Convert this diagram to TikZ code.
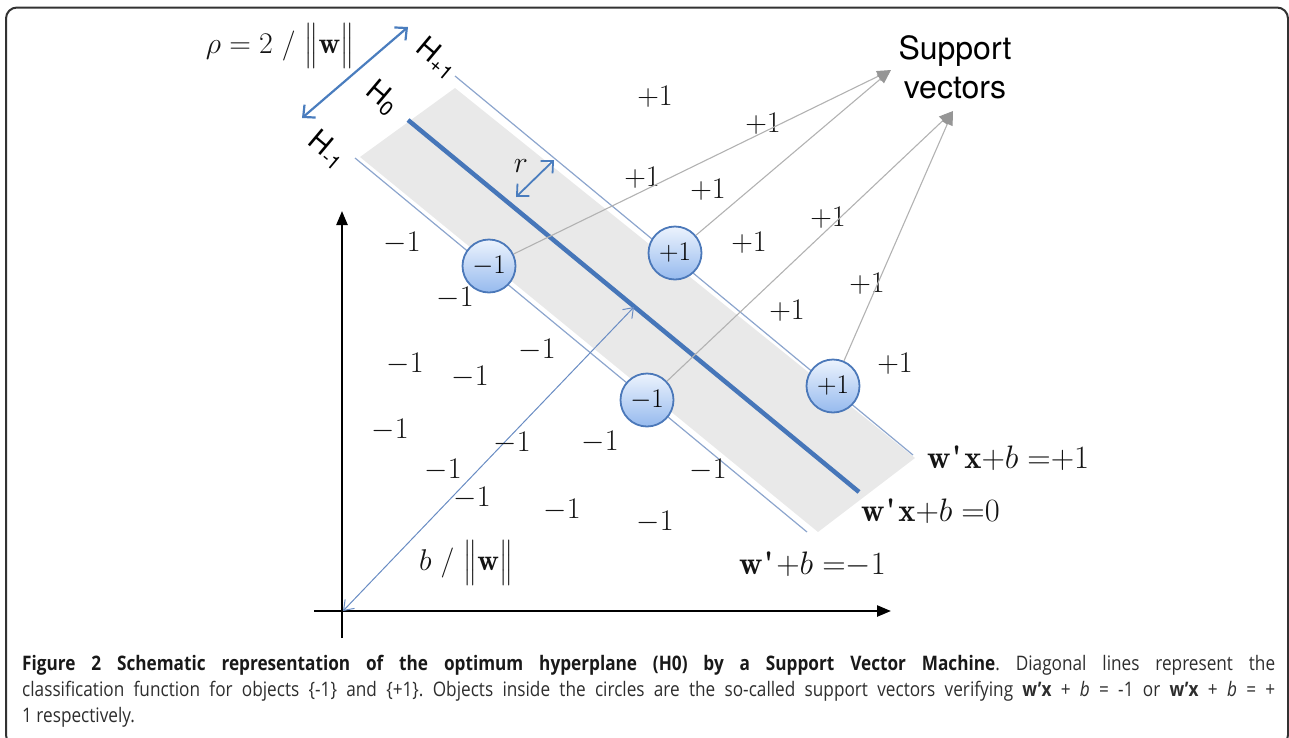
\RequirePackage{fix-cm}
\documentclass[tikz,border=0pt]{standalone}
\usepackage{exscale}
\usepackage{fontspec}
\usetikzlibrary{arrows.meta}
\newfontfamily\helv{TeX Gyre Heros}
\newfontfamily\capfont[FakeStretch=0.86]{Open Sans}
\definecolor{bandgray}{RGB}{233,233,233}
\definecolor{hzero}{RGB}{70,118,185}
\definecolor{hthin}{RGB}{140,165,205}
\definecolor{arrblue}{RGB}{74,125,190}
\definecolor{thinblue}{RGB}{105,140,195}
\definecolor{svline}{RGB}{178,178,178}
\definecolor{svhead}{RGB}{150,150,150}
\definecolor{circtop}{RGB}{236,243,253}
\definecolor{circbot}{RGB}{150,186,238}
\definecolor{circedge}{RGB}{75,120,185}
\definecolor{framecol}{RGB}{50,50,50}
\definecolor{captext}{RGB}{45,45,45}
\newcommand{\wpr}{\mathbf{w}\mbox{\bfseries\kern1pt\textquotesingle\kern2.5pt}}
\begin{document}
\begin{tikzpicture}[x=1pt,y=-1pt,
  lab/.style={font=\fontsize{30}{36}\selectfont, text=black!92, inner sep=0pt},
  eqlab/.style={font=\fontsize{32.5}{38}\selectfont, text=black!92, inner sep=0pt, anchor=west},
  hlab/.style={font=\helv\fontsize{29}{32}\selectfont, text=black, inner sep=0pt, rotate=-40},
  svc/.style={circle, draw=circedge, line width=1.8pt, minimum size=53pt, inner sep=0pt,
    top color=circtop, bottom color=circbot, font=\fontsize{27}{30}\selectfont},
  svarrow/.style={draw=svline, line width=1.1pt, -{Triangle[length=14pt,width=11pt,color=svhead]}},
  thinline/.style={draw=hthin, line width=1.2pt},
  axis/.style={line width=2.4pt, black, -{Triangle[length=14pt,width=11pt]}},
  bigdbl/.style={draw=arrblue, line width=2.2pt, {Straight Barb[length=9pt,width=17pt]}-{Straight Barb[length=9pt,width=17pt]}},
  thindbl/.style={draw=thinblue, line width=1pt, {Straight Barb[length=9pt,width=13pt]}-{Straight Barb[length=9pt,width=13pt]}}
]
\useasboundingbox (0,0) rectangle (1289,737);
\clip (0,0) rectangle (1289,737);
% frame
\draw[line width=2pt, framecol, rounded corners=11pt] (6,7.5) rectangle (1288,746);

% coordinates
\coordinate (O) at (343,611);
\coordinate (ybot) at (342,638);
\coordinate (ytop) at (342,211);
\coordinate (xleft) at (314,611);
\coordinate (xright) at (891,611);
\coordinate (h0a) at (408,120);
\coordinate (h0b) at (859,492);
\coordinate (hpa) at (455,76);
\coordinate (hpb) at (913,455);
\coordinate (hma) at (355,158);
\coordinate (hmb) at (807,532);
\coordinate (ra) at (302,118);
\coordinate (rb) at (408,27);
\coordinate (sa) at (516,197);
\coordinate (sb) at (554,160);
\coordinate (bw) at (634,307);
\coordinate (t1) at (891,70);
\coordinate (t2) at (953,111);

% band
\fill[bandgray] (455,88) -- (915,458) -- (818,532) -- (360,157) -- cycle;
\draw[thinline] (hpa) -- (hpb);
\draw[thinline] (hma) -- (hmb);
\draw[draw=hzero, line width=4.5pt] (h0a) -- (h0b);

% axes
\draw[axis] (ybot) -- (ytop);
\draw[axis] (xleft) -- (xright);

% arrows
\draw[bigdbl] (ra) -- (rb);
\draw[bigdbl, line width=1.8pt] (sa) -- (sb);
\draw[thindbl] (bw) -- (O);

% labels
\node[lab] (rho) at (280,46) {$\rho = 2\ /\ \big\|\mathbf{w}\big\|$};
\node[lab] (bl) at (466,563) {$b\ /\ \big\|\mathbf{w}\big\|$};
\node[lab] (rl) at (521,166) {$r$};
\node[hlab] (hp) at (437,58) {H\textsubscript{+1}};
\node[hlab] (h0) at (382,98) {H\textsubscript{0}};
\node[hlab] (hm) at (327,150) {H\textsubscript{-1}};

\foreach \x/\y [count=\i] in {655/97, 763/124, 642/178, 708/190, 828/218, 749/243, 867/284, 787/311, 895/364}
  \node[lab] (p\i) at (\x,\y) {$+1$};
\foreach \x/\y [count=\i] in {402/243, 455/298, 537/350, 405/364, 470/377, 390/430, 512/443, 600/442, 443/470, 708/470, 472/498, 562/510, 655/522}
  \node[lab] (m\i) at (\x,\y) {$-1$};

\node[eqlab] (e1) at (927,458) {$\wpr\mathbf{x}{+}b\;{=}{+}1$};
\node[eqlab] (e0) at (861,511) {$\wpr\mathbf{x}{+}b\;{=}0$};
\node[eqlab] (em) at (739,564) {$\wpr{+}b\;{=}{-}1$};

% support vectors
\node[svc] (c1) at (489,266) {$-1$};
\node[svc] (c2) at (675,253) {$+1$};
\node[svc] (c3) at (647,400) {$-1$};
\node[svc] (c4) at (833,386) {$+1$};

\node[font=\helv\fontsize{32}{39}\selectfont, align=center, inner sep=0pt] (svt) at (955,67) {Support\\vectors};

\draw[svarrow] (c1) -- (t1);
\draw[svarrow] (c2) -- (t1);
\draw[svarrow] (c3) -- (t2);
\draw[svarrow] (c4) -- (t2);

% caption
\node[anchor=north west, inner sep=0pt, text width=1253pt, align=justify, text=captext,
  font=\capfont\fontsize{20}{26}\selectfont\frenchspacing] (cap) at (22,655)
{{\bfseries\color{black!90}Figure 2 Schematic representation of the optimum hyperplane (H0) by a Support Vector Machine}. Diagonal lines represent the\linebreak classification function for objects \{-1\} and \{+1\}. Objects inside the circles are the so-called support vectors verifying {\bfseries w’x} + \textit{b} = -1 or {\bfseries w’x} + \textit{b} = +\linebreak 1 respectively.};
\end{tikzpicture}
\end{document}
